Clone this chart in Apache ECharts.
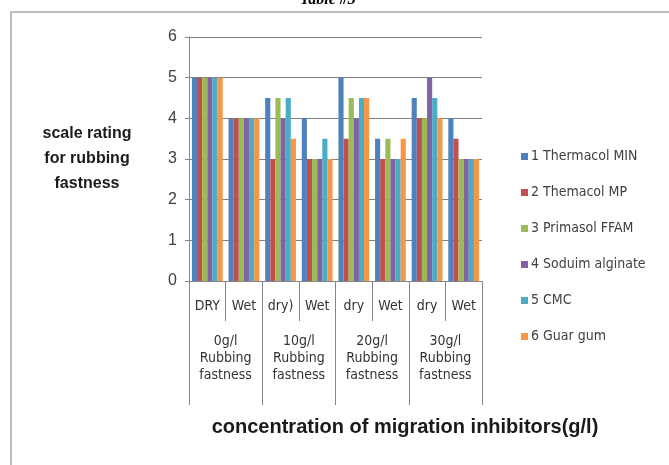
<!DOCTYPE html>
<html>
<head>
<meta charset="utf-8">
<script src="https://cdn.jsdelivr.net/npm/echarts@6/dist/echarts.min.js"></script>
<style>
  html, body { margin: 0; padding: 0; background: #fff; }
  #chart { width: 669px; height: 465px; }
</style>
</head>
<body>
<div id="chart"></div>
<script>
const conditions = ["DRY", "Wet", "dry)", "Wet", "dry", "Wet", "dry", "Wet"];
const groups = ["0g/l\nRubbing\nfastness", "10g/l\nRubbing\nfastness", "20g/l\nRubbing\nfastness", "30g/l\nRubbing\nfastness"];
const yTicks = [0, 1, 2, 3, 4, 5, 6];

const thermacolMIN = [5, 4, 4.5, 4, 5, 3.5, 4.5, 4];
const thermacolMP = [5, 4, 3, 3, 3.5, 3, 4, 3.5];
const primasolFFAM = [5, 4, 4.5, 3, 4.5, 3.5, 4, 3];
const sodiumAlginate = [5, 4, 4, 3, 4, 3, 5, 3];
const cmc = [5, 4, 4.5, 3.5, 4.5, 3, 4.5, 3];
const guarGum = [5, 4, 3.5, 3, 4.5, 3.5, 4, 3];

const seriesDefs = [
  ["1 Thermacol MIN", thermacolMIN, "#4f81bd"],
  ["2 Themacol MP", thermacolMP, "#c0504d"],
  ["3 Primasol FFAM", primasolFFAM, "#9bbb59"],
  ["4 Soduim alginate", sodiumAlginate, "#8064a2"],
  ["5 CMC", cmc, "#4bacc6"],
  ["6 Guar gum", guarGum, "#f79646"]
];

const labelFont = "'Liberation Sans Narrow', 'DejaVu Sans Condensed', 'Liberation Sans', sans-serif";
const chart = echarts.init(document.getElementById("chart"));

chart.setOption({
  animation: false,
  grid: { left: 189, right: 187, top: 37, bottom: 184 },
  legend: {
    orient: "vertical",
    left: 516,
    top: 144,
    itemWidth: 7,
    itemHeight: 7,
    itemGap: 21,
    icon: "rect",
    textStyle: { fontFamily: labelFont, fontSize: 14, color: "#404040", lineHeight: 15, padding: [0, 0, 0, -2] },
    data: seriesDefs.map(s => s[0])
  },
  xAxis: [
    {
      type: "category",
      data: conditions,
      axisLine: { lineStyle: { color: "#868686", width: 1 } },
      axisTick: { show: true, length: 40, interval: 0, lineStyle: { color: "#868686" } },
      axisLabel: { interval: 0, margin: 18, fontFamily: labelFont, fontSize: 14, color: "#333" }
    },
    {
      type: "category",
      data: groups,
      position: "bottom",
      axisLine: { show: false },
      axisTick: { show: true, length: 124, interval: 0, lineStyle: { color: "#868686" } },
      axisLabel: { interval: 0, margin: 52, lineHeight: 17, fontFamily: labelFont, fontSize: 14, color: "#333" }
    }
  ],
  yAxis: {
    type: "value",
    min: yTicks[0],
    max: yTicks[yTicks.length - 1],
    interval: 1,
    axisLine: { show: true, lineStyle: { color: "#868686" } },
    axisTick: { show: true, length: 4, lineStyle: { color: "#868686" } },
    axisLabel: { margin: 12, fontFamily: "'Liberation Sans', sans-serif", fontSize: 16, color: "#404040" },
    splitLine: { lineStyle: { color: "#808080", width: 1 } }
  },
  series: seriesDefs.map(([name, values, color]) => ({
    name,
    type: "bar",
    data: values,
    barGap: "0%",
    barCategoryGap: "16%",
    itemStyle: { color }
  })),
  graphic: [
    {
      type: "rect",
      shape: { x: 11, y: 12, width: 700, height: 500 },
      style: { fill: "none", stroke: "#a6a6a6", lineWidth: 1.5 },
      silent: true
    },
    {
      type: "text",
      left: 300,
      top: -8,
      style: { text: "Table #3", font: "bold italic 16px 'Liberation Serif', serif", fill: "#000" }
    },
    {
      type: "text",
      x: 87,
      y: 159,
      style: {
        text: "scale rating\nfor rubbing\nfastness",
        font: "bold 16px 'Liberation Sans', sans-serif",
        lineHeight: 25,
        fill: "#1a1a1a",
        align: "center",
        verticalAlign: "middle"
      }
    },
    {
      type: "text",
      x: 405,
      y: 427,
      style: {
        text: "concentration of migration inhibitors(g/l)",
        font: "bold 20px 'Liberation Sans', sans-serif",
        fill: "#1a1a1a",
        align: "center",
        verticalAlign: "middle"
      }
    }
  ]
});
</script>
</body>
</html>
